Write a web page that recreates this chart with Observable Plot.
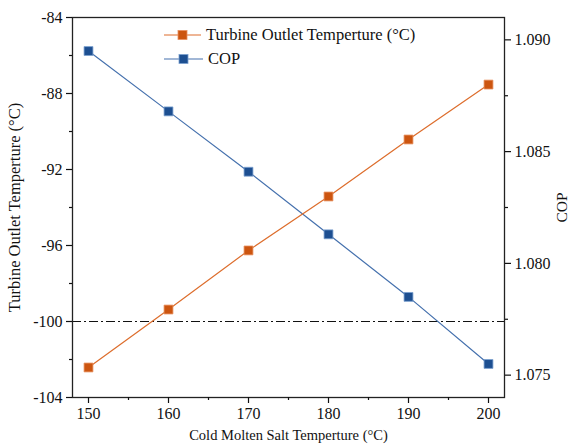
<!DOCTYPE html>
<html>
<head>
<meta charset="utf-8">
<script src="https://cdn.jsdelivr.net/npm/d3@7"></script>
<script src="https://cdn.jsdelivr.net/npm/@observablehq/plot@0.6"></script>
<style>
  body { margin: 0; background: #fff; }
  #chart { position: relative; width: 579px; height: 445px; font-family: "Liberation Serif", "Times New Roman", serif; color: #111; }
  #chart svg { display: block; }
  .legend { position: absolute; left: 163px; top: 23px; font-size: 16.5px; line-height: 24px; }
  .legend .row { display: flex; align-items: center; height: 24px; }
  .legend svg { margin-right: 3px; }
</style>
</head>
<body>
<div id="chart"></div>
<script>
// Cold molten salt temperature (°C) on the x axis
const saltTemp = [150, 160, 170, 180, 190, 200];
// Turbine outlet temperature (°C), left axis
const turbineOutlet = [-102.42, -99.37, -96.26, -93.42, -90.42, -87.53];
// Coefficient of performance, right axis
const cop = [1.0895, 1.0868, 1.0841, 1.0813, 1.0785, 1.0755];

const xTicks = [150, 160, 170, 180, 190, 200];
const xMinor = [155, 165, 175, 185, 195];
const leftTicks = [-104, -100, -96, -92, -88, -84];
const leftMinor = [-102, -98, -94, -90, -86];
const rightTicks = [1.075, 1.080, 1.085, 1.090];
const rightMinor = [1.0775, 1.0825, 1.0875];
const refLine = [-100];

const leftDomain = [-104, -84];
const rightDomain = [1.074, 1.091];

// COP shares the plot with the left scale: map it into the left domain
const toLeft = d3.scaleLinear().domain(rightDomain).range(leftDomain);

const orangeLine = "#dd6d2c", orangeFill = "#cc5510", orangeEdge = "#e99060";
const blueLine = "#4470ad", blueFill = "#1d4f91", blueEdge = "#7aa0cf";

const rows = saltTemp.map((t, i) => ({t, outlet: turbineOutlet[i], cop: cop[i], copY: toLeft(cop[i])}));

const font = "Liberation Serif, Times New Roman, serif";
const none = () => "";

const chart = Plot.plot({
  width: 579,
  height: 445,
  marginLeft: 72,
  marginRight: 75,
  marginTop: 17,
  marginBottom: 48,
  style: {fontFamily: font, fontSize: "15px", color: "#111", background: "#fff"},
  x: {domain: [148, 202]},
  y: {domain: leftDomain},
  marks: [
    Plot.ruleY(refLine, {stroke: "#111", strokeWidth: 1.2, strokeDasharray: "9,3,2,3"}),
    Plot.line(rows, {x: "t", y: "copY", stroke: blueLine, strokeWidth: 1.2}),
    Plot.line(rows, {x: "t", y: "outlet", stroke: orangeLine, strokeWidth: 1.2}),
    Plot.dot(rows, {x: "t", y: "copY", symbol: "square", r: 5, fill: blueFill, stroke: blueEdge, strokeWidth: 0.8}),
    Plot.dot(rows, {x: "t", y: "outlet", symbol: "square", r: 5, fill: orangeFill, stroke: orangeEdge, strokeWidth: 0.8}),
    Plot.frame({stroke: "#222", strokeWidth: 1.3}),
    // bottom axis
    Plot.axisX({ticks: xTicks, tickSize: 6, tickPadding: 4, strokeWidth: 1.2, fontSize: 16, label: null, tickFormat: d => String(d)}),
    Plot.axisX({ticks: xMinor, tickSize: 3, strokeWidth: 1.2, tickFormat: none, label: null}),
    Plot.axisX({ticks: [], label: "Cold Molten Salt Temperture (°C)", fontSize: 14.5,
      labelAnchor: "center", labelArrow: false, labelOffset: 42}),
    // left axis
    Plot.axisY({ticks: leftTicks, tickSize: 6, tickPadding: 4, strokeWidth: 1.2, fontSize: 16, label: null, tickFormat: d => String(d)}),
    Plot.axisY({ticks: leftMinor, tickSize: 3, strokeWidth: 1.2, tickFormat: none, label: null}),
    Plot.axisY({ticks: [], label: "Turbine Outlet Temperture (°C)", fontSize: 16.5,
      labelAnchor: "center", labelArrow: false, labelOffset: 64}),
    // right axis (COP), positioned through the shared scale
    Plot.axisY({anchor: "right", ticks: rightTicks.map(toLeft), tickSize: 6, tickPadding: 4, strokeWidth: 1.2, fontSize: 16,
      tickFormat: d => toLeft.invert(d).toFixed(3), label: null}),
    Plot.axisY({anchor: "right", ticks: rightMinor.map(toLeft), tickSize: 3, strokeWidth: 1.2, tickFormat: none, label: null}),
    Plot.axisY({anchor: "right", ticks: [], label: "COP", fontSize: 15.5,
      labelAnchor: "center", labelArrow: false, labelOffset: 62})
  ]
});

const host = document.getElementById("chart");
host.appendChild(chart);

// legend inside the plot area
const legend = document.createElement("div");
legend.className = "legend";
const series = [
  {name: "Turbine Outlet Temperture (°C)", line: orangeLine, fill: orangeFill, edge: orangeEdge, w: 40},
  {name: "COP", line: blueLine, fill: blueFill, edge: blueEdge, w: 42}
];
for (const s of series) {
  const row = document.createElement("div");
  row.className = "row";
  row.innerHTML = `<svg width="${s.w}" height="14"><line x1="1" x2="${s.w - 2}" y1="7" y2="7" stroke="${s.line}" stroke-width="1.2"/>` +
    `<rect x="${s.w / 2 - 5}" y="2.5" width="9" height="9" fill="${s.fill}" stroke="${s.edge}" stroke-width="0.8"/></svg>` +
    `<span>${s.name}</span>`;
  legend.appendChild(row);
}
host.appendChild(legend);
</script>
</body>
</html>
